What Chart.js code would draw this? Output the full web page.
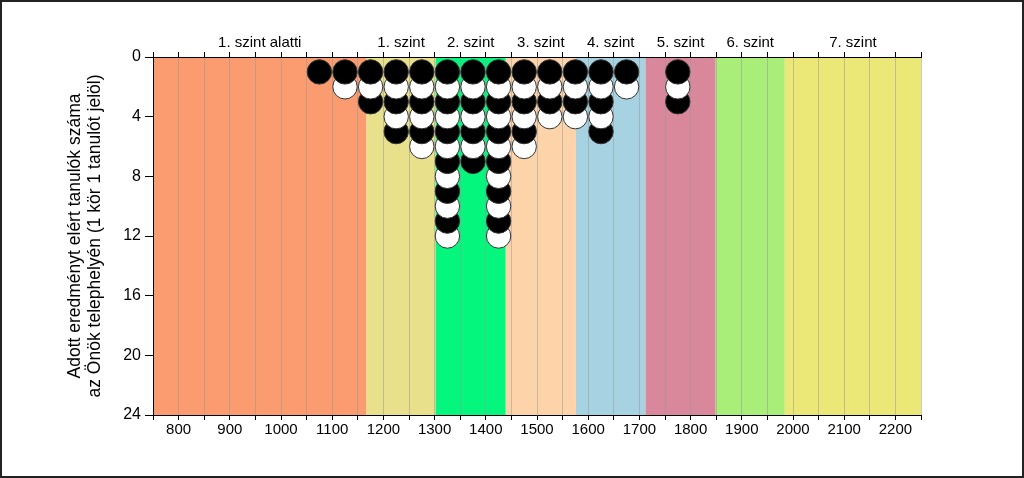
<!DOCTYPE html>
<html lang="hu">
<head>
<meta charset="utf-8">
<title>Tanulók eredményei</title>
<script src="https://cdn.jsdelivr.net/npm/chart.js@4.4.1/dist/chart.umd.min.js"></script>
<style>
	html, body { margin: 0; padding: 0; background: #fff; }
	#wrap { position: relative; width: 1024px; height: 478px; }
	#frame {
		position: absolute; left: 0; top: 0; width: 1024px; height: 478px;
		box-sizing: border-box; border: 2px solid #222; pointer-events: none;
	}
</style>
</head>
<body>
<div id="wrap">
	<canvas id="szintChart"></canvas>
	<div id="frame"></div>
</div>
<script>
// Adatok: oszlopok (pontszám) és a tanulók száma oszloponként
const pontszamok = [1075, 1125, 1175, 1225, 1275, 1325, 1375, 1425, 1475, 1525, 1575, 1625, 1675, 1775];
const tanulokSzama = [1, 2, 3, 5, 6, 12, 7, 12, 6, 4, 4, 5, 2, 3];

// Képességszintek határai és nevei
const szintHatarok = [750, 1167, 1302, 1439, 1576, 1712, 1849, 1984, 2250];
const szintNevek = ["1. szint alatti", "1. szint", "2. szint", "3. szint", "4. szint", "5. szint", "6. szint", "7. szint"];

// Tengelyek
const xMin = 750;
const xMax = 2250;
const yTicks = [0, 4, 8, 12, 16, 20, 24];

const szintSzinek = ["#FA9B70", "#E8E08A", "#05F67C", "#FDD4AA", "#A6D2E2", "#D8889A", "#A8EE78", "#ECE878"];
const betu = "'Liberation Sans', Arial, sans-serif";

// Körök: páratlan sorszám fekete, páros fehér.
// Alulról felfelé rajzoljuk, így a felső kör takarja az alatta lévőt.
const korok = [];
const korSzinek = [];
pontszamok.forEach((x, i) => {
	for (let k = tanulokSzama[i]; k >= 1; k--) {
		korok.push({ x: x, y: k });
		korSzinek.push(k % 2 === 1 ? "#000" : "#fff");
	}
});

const szintKozepek = szintNevek.map((_, i) => (szintHatarok[i] + szintHatarok[i + 1]) / 2);

// Háttérsávok a szintekhez
const savokPlugin = {
	id: "savok",
	beforeDraw(chart) {
		const { ctx, chartArea, scales } = chart;
		ctx.save();
		szintNevek.forEach((_, i) => {
			const x1 = scales.x.getPixelForValue(szintHatarok[i]);
			const x2 = scales.x.getPixelForValue(szintHatarok[i + 1]);
			ctx.fillStyle = szintSzinek[i];
			ctx.fillRect(x1, chartArea.top, x2 - x1, chartArea.bottom - chartArea.top);
		});
		ctx.restore();
	},
};

new Chart(document.getElementById("szintChart"), {
	type: "scatter",
	data: {
		datasets: [
			{
				label: "tanulók",
				data: korok,
				backgroundColor: korSzinek,
				borderColor: "#333",
				borderWidth: 1,
				pointRadius: 12.2,
				pointHoverRadius: 12.2,
				showLine: false,
			},
		],
	},
	options: {
		responsive: true,
		maintainAspectRatio: false,
		animation: false,
		layout: { padding: { right: 103 } },
		plugins: {
			legend: { display: false },
			tooltip: { enabled: false },
		},
		scales: {
			x: {
				type: "linear",
				position: "bottom",
				min: xMin,
				max: xMax,
				afterFit: (s) => { s.height = 63; },
				grid: {
					color: "rgba(150, 150, 150, 0.5)",
					tickColor: "#000",
					tickLength: 5,
				},
				border: { color: "#000" },
				ticks: {
					stepSize: 50,
					autoSkip: false,
					maxRotation: 0,
					padding: 1,
					color: "#000",
					font: { family: betu, size: 15 },
					callback: (v) => (v % 100 === 0 ? v : ""),
				},
			},
			xTop: {
				type: "linear",
				position: "top",
				min: xMin,
				max: xMax,
				weight: 0,
				afterFit: (s) => { s.height = 5; },
				grid: { drawOnChartArea: false, color: "#000", tickLength: 5 },
				border: { color: "#000" },
				ticks: { stepSize: 50, autoSkip: false, display: false },
			},
			xSzint: {
				type: "linear",
				position: "top",
				min: xMin,
				max: xMax,
				weight: 10,
				afterFit: (s) => { s.height = 52; },
				afterBuildTicks: (s) => { s.ticks = szintKozepek.map((v) => ({ value: v })); },
				grid: { display: false, drawTicks: false },
				border: { display: false },
				ticks: {
					autoSkip: false,
					maxRotation: 0,
					padding: 0,
					color: "#000",
					font: { family: betu, size: 15 },
					callback: (v, i) => szintNevek[i],
				},
			},
			y: {
				reverse: true,
				min: 0,
				max: 24,
				afterFit: (s) => { s.width = 153; },
				afterBuildTicks: (s) => { s.ticks = yTicks.map((v) => ({ value: v })); },
				grid: { drawOnChartArea: false, color: "#000", tickLength: 8 },
				border: { color: "#000" },
				ticks: {
					padding: 4,
					color: "#000",
					font: { family: betu, size: 16 },
				},
				title: {
					display: true,
					text: ["Adott eredményt elért tanulók száma", "az Önök telephelyén (1 kör 1 tanulót jelöl)"],
					color: "#000",
					font: { family: betu, size: 17.5, lineHeight: 1.15 },
					padding: { top: 65, bottom: 0 },
				},
			},
		},
	},
	plugins: [savokPlugin],
});
</script>
</body>
</html>
